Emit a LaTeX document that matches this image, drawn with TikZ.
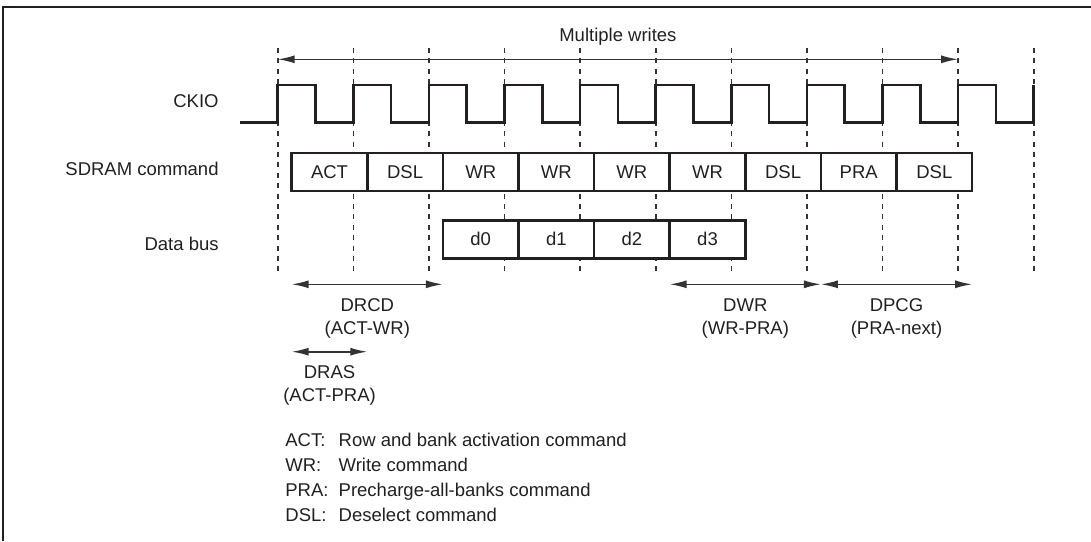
\documentclass[tikz,border=0pt]{standalone}
\usepackage{fontspec}
\setmainfont{Liberation Sans}
\usepackage{xcolor}
\usepackage{tikz}
\usetikzlibrary{positioning, calc, arrows.meta}
\definecolor{inkDark}{HTML}{231F20}
\definecolor{guideGray}{HTML}{333333}

\begin{document}
\begin{tikzpicture}[x=0.5pt, y=-0.5pt, font=\fontsize{9.25}{11}\selectfont, text=inkDark,
  guide/.style={guideGray, line width=0.8pt, dash pattern=on 2.5pt off 2.7pt},
  wave/.style={inkDark, line width=1.3pt},
  cell/.style={draw=inkDark, fill=white, line width=1.3pt, minimum width=37.8pt, minimum height=19pt,
               inner sep=0pt, outer sep=0pt, text height=6.6pt, text depth=0pt},
  dimarr/.style={guideGray, line width=0.8pt, {Latex[length=8.5pt,width=4pt]}-{Latex[length=8.5pt,width=4pt]}},
  lab/.style={anchor=base, inner sep=0pt}]
  \useasboundingbox (0,0) rectangle (1091,541);
  \def\T{75.6}\def\xz{277.7}\def\hi{85}\def\lo{122.7}
  % frame
  \draw[inkDark, line width=1.1pt] (3.3,541) -- (3.3,7.3) -- (1091,7.3);
  % clock edge guides
  \foreach \k in {0,...,10}{
     \coordinate (e\k) at ({\xz+\k*\T},48);
     \draw[guide] (e\k) -- ++(0,227);}
  % row labels
  \node[lab, anchor=base east] (ckio) at (219,107.7) {CKIO};
  \node[lab, anchor=base east] (cmd) at (219,175.7) {SDRAM command};
  \node[lab, anchor=base east] (bus) at (219,250.7) {Data bus};
  % clock
  \draw[wave] (240,\lo) \foreach \k in {0,...,9}{
     -- ({\xz+\k*\T},\lo) -- ({\xz+\k*\T},\hi) -- ({\xz+\k*\T+\T/2},\hi) -- ({\xz+\k*\T+\T/2},\lo)}
     -- ({\xz+10*\T},\lo) -- ({\xz+10*\T},\hi);
  % command sequence
  \foreach \lab [count=\i] in {ACT,DSL,WR,WR,WR,WR,DSL,PRA,DSL}
     \node[cell] (c\i) at ({291.7+(\i-0.5)*\T},171.85) {\lab};
  % data phases
  \foreach \lab [count=\i] in {d0,d1,d2,d3}
     \node[cell] (d\i) at ({442.9+(\i-0.5)*\T},239.3) {\lab};
  % multiple writes
  \coordinate (mwrow) at (0,59.3);
  \draw[dimarr] (e0 |- mwrow) -- (e9 |- mwrow);
  \node[lab] (mw) at (617.9,41.3) {Multiple writes};
  % timing parameters
  \coordinate (dimrow) at (0,284.3);
  \coordinate (rasrow) at (0,351.7);
  \draw[dimarr] (c1.west |- dimrow) -- (c3.west |- dimrow);
  \draw[dimarr] (c6.west |- dimrow) -- (c8.west |- dimrow);
  \draw[dimarr] (c8.west |- dimrow) -- (c9.east |- dimrow);
  \draw[dimarr] (c1.west |- rasrow) -- (c1.east |- rasrow);
  \foreach \name/\x/\y/\top/\sub in {drcd/367.3/311/DRCD/{(ACT-WR)}, dwr/745.3/311/DWR/{(WR-PRA)},
                                     dpcg/896.5/311/DPCG/{(PRA-next)}, dras/329.5/378.7/DRAS/{(ACT-PRA)}}{
     \node[lab] (\name) at (\x,\y) {\top};
     \node[lab] (\name-sub) at (\x,{\y+23}) {\sub};}
  % legend
  \foreach \key/\txt [count=\r] in {ACT:/Row and bank activation command, WR:/Write command,
                                    PRA:/Precharge-all-banks command, DSL:/Deselect command}{
     \node[lab, anchor=base west] (key\r) at (285,{446+(\r-1)*25.3}) {\key};
     \node[lab, anchor=base west] (txt\r) at (338.3,{446+(\r-1)*25.3}) {\txt};}
\end{tikzpicture}
\end{document}
